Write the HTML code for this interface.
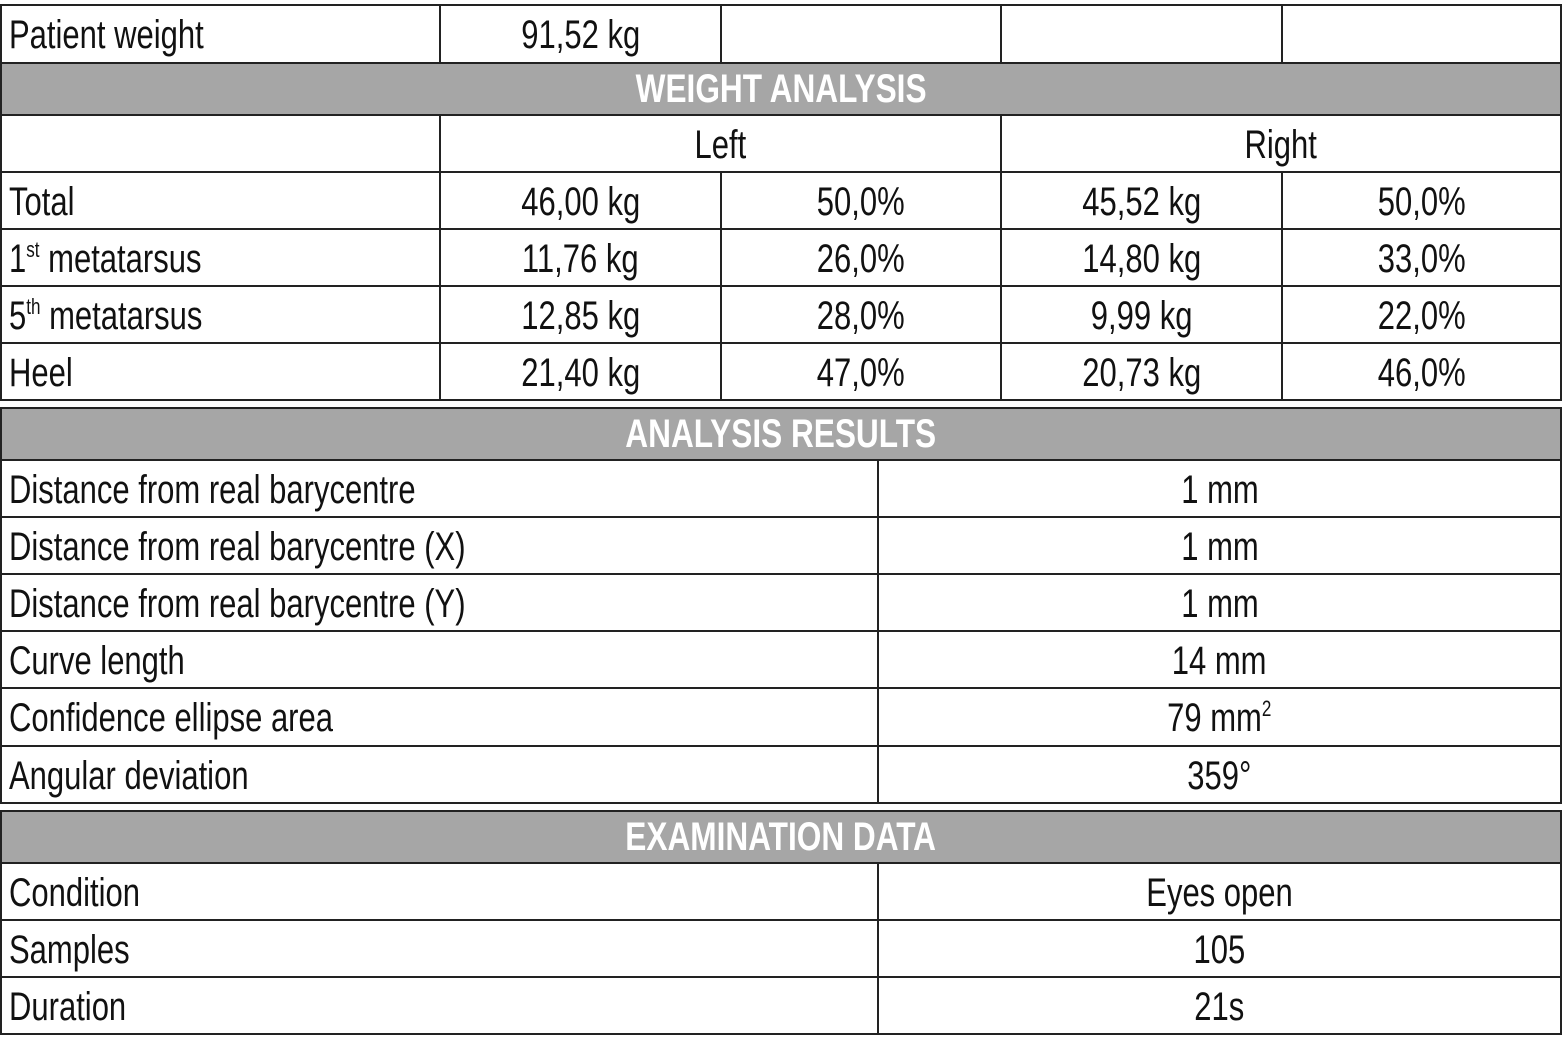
<!DOCTYPE html>
<html><head><style>
html,body{margin:0;padding:0;background:#fff;width:1562px;height:1055px;overflow:hidden}
.c{position:absolute;box-sizing:border-box;border:2px solid #222;display:flex;align-items:center;font-family:"Liberation Sans",sans-serif;font-size:40px;color:#111;white-space:nowrap;padding-top:3px}
.c span{display:inline-block;transform:scaleX(0.775)}
.l{padding-left:7px}
.l span{transform-origin:left center}
.m{justify-content:center}
.m span{transform-origin:center center}
.h{background:#a6a6a6;color:#fff;font-weight:bold;justify-content:center;font-size:40px;padding-top:1px}
.h span{transform:scaleX(0.79)}
sup{font-size:22px;vertical-align:15px}
</style></head><body>
<div class="c l" style="left:0;top:4px;width:441px;height:60px"><span>Patient weight</span></div>
<div class="c m" style="left:439px;top:4px;width:283px;height:60px"><span>91,52 kg</span></div>
<div class="c" style="left:720px;top:4px;width:282px;height:60px"></div>
<div class="c" style="left:1000px;top:4px;width:283px;height:60px"></div>
<div class="c" style="left:1281px;top:4px;width:281px;height:60px"></div>
<div class="c h" style="left:0;top:62px;width:1562px;height:54px"><span>WEIGHT ANALYSIS</span></div>
<div class="c" style="left:0;top:114px;width:441px;height:59px"></div>
<div class="c m" style="left:439px;top:114px;width:563px;height:59px"><span>Left</span></div>
<div class="c m" style="left:1000px;top:114px;width:562px;height:59px"><span>Right</span></div>

<div class="c l" style="left:0;top:171px;width:441px;height:59px"><span>Total</span></div>
<div class="c m" style="left:439px;top:171px;width:283px;height:59px"><span>46,00 kg</span></div>
<div class="c m" style="left:720px;top:171px;width:282px;height:59px"><span>50,0%</span></div>
<div class="c m" style="left:1000px;top:171px;width:283px;height:59px"><span>45,52 kg</span></div>
<div class="c m" style="left:1281px;top:171px;width:281px;height:59px"><span>50,0%</span></div>

<div class="c l" style="left:0;top:228px;width:441px;height:59px"><span>1<sup>st</sup> metatarsus</span></div>
<div class="c m" style="left:439px;top:228px;width:283px;height:59px"><span>11,76 kg</span></div>
<div class="c m" style="left:720px;top:228px;width:282px;height:59px"><span>26,0%</span></div>
<div class="c m" style="left:1000px;top:228px;width:283px;height:59px"><span>14,80 kg</span></div>
<div class="c m" style="left:1281px;top:228px;width:281px;height:59px"><span>33,0%</span></div>

<div class="c l" style="left:0;top:285px;width:441px;height:59px"><span>5<sup>th</sup> metatarsus</span></div>
<div class="c m" style="left:439px;top:285px;width:283px;height:59px"><span>12,85 kg</span></div>
<div class="c m" style="left:720px;top:285px;width:282px;height:59px"><span>28,0%</span></div>
<div class="c m" style="left:1000px;top:285px;width:283px;height:59px"><span>9,99 kg</span></div>
<div class="c m" style="left:1281px;top:285px;width:281px;height:59px"><span>22,0%</span></div>

<div class="c l" style="left:0;top:342px;width:441px;height:59px"><span>Heel</span></div>
<div class="c m" style="left:439px;top:342px;width:283px;height:59px"><span>21,40 kg</span></div>
<div class="c m" style="left:720px;top:342px;width:282px;height:59px"><span>47,0%</span></div>
<div class="c m" style="left:1000px;top:342px;width:283px;height:59px"><span>20,73 kg</span></div>
<div class="c m" style="left:1281px;top:342px;width:281px;height:59px"><span>46,0%</span></div>

<div class="c h" style="left:0;top:407px;width:1562px;height:54px"><span>ANALYSIS RESULTS</span></div>
<div class="c l" style="left:0;top:459px;width:879px;height:59px"><span>Distance from real barycentre</span></div>
<div class="c m" style="left:877px;top:459px;width:685px;height:59px"><span>1 mm</span></div>
<div class="c l" style="left:0;top:516px;width:879px;height:59px"><span>Distance from real barycentre (X)</span></div>
<div class="c m" style="left:877px;top:516px;width:685px;height:59px"><span>1 mm</span></div>
<div class="c l" style="left:0;top:573px;width:879px;height:59px"><span>Distance from real barycentre (Y)</span></div>
<div class="c m" style="left:877px;top:573px;width:685px;height:59px"><span>1 mm</span></div>
<div class="c l" style="left:0;top:630px;width:879px;height:59px"><span>Curve length</span></div>
<div class="c m" style="left:877px;top:630px;width:685px;height:59px"><span>14 mm</span></div>
<div class="c l" style="left:0;top:687px;width:879px;height:60px"><span>Confidence ellipse area</span></div>
<div class="c m" style="left:877px;top:687px;width:685px;height:60px"><span>79 mm<sup>2</sup></span></div>
<div class="c l" style="left:0;top:745px;width:879px;height:59px"><span>Angular deviation</span></div>
<div class="c m" style="left:877px;top:745px;width:685px;height:59px"><span>359°</span></div>

<div class="c h" style="left:0;top:810px;width:1562px;height:54px"><span>EXAMINATION DATA</span></div>
<div class="c l" style="left:0;top:862px;width:879px;height:59px"><span>Condition</span></div>
<div class="c m" style="left:877px;top:862px;width:685px;height:59px"><span>Eyes open</span></div>
<div class="c l" style="left:0;top:919px;width:879px;height:59px"><span>Samples</span></div>
<div class="c m" style="left:877px;top:919px;width:685px;height:59px"><span>105</span></div>
<div class="c l" style="left:0;top:976px;width:879px;height:59px"><span>Duration</span></div>
<div class="c m" style="left:877px;top:976px;width:685px;height:59px"><span>21s</span></div>
</body></html>
